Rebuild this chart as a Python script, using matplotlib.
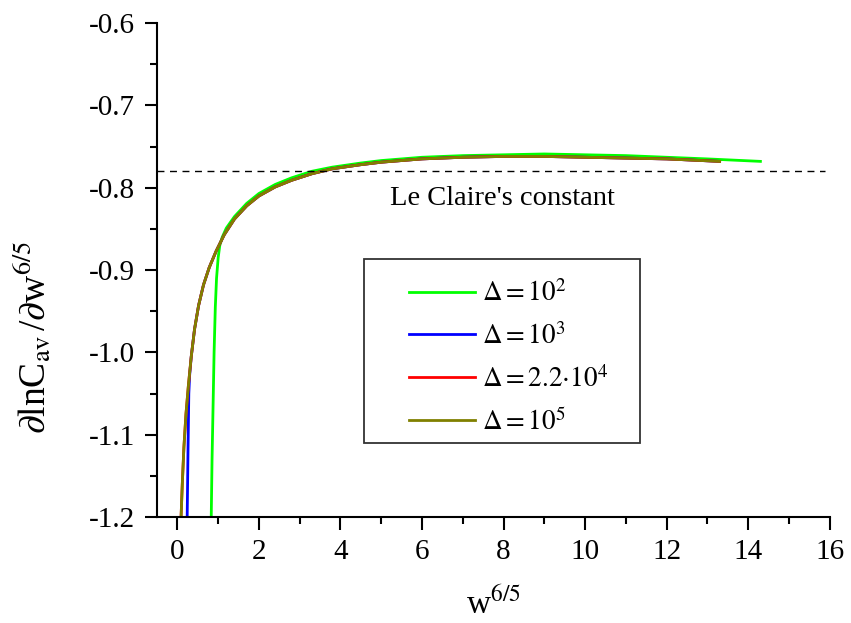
import matplotlib
matplotlib.use("Agg")
import matplotlib.pyplot as plt
from matplotlib.patches import Rectangle
from matplotlib.ticker import MultipleLocator

plt.rcParams["font.family"] = ["Liberation Serif", "DejaVu Serif"]
plt.rcParams["mathtext.fontset"] = "stix"
plt.rcParams["axes.unicode_minus"] = False

# Delta = 10^5 (and 2.2*10^4, which lies underneath it)
x_main = [0.09, 0.12, 0.16, 0.21, 0.27, 0.34, 0.42, 0.52, 0.64, 0.78, 0.95,
          1.15, 1.40, 1.70, 2.0, 2.4, 2.8, 3.3, 3.8, 4.5, 5.0, 6.0, 7.0, 8.0,
          9.0, 10.0, 11.0, 12.0, 13.3]
y_1e5 = [-1.200, -1.160, -1.115, -1.075, -1.040, -1.005, -0.972, -0.943,
         -0.918, -0.897, -0.877, -0.857, -0.838, -0.822, -0.810, -0.799,
         -0.791, -0.783, -0.777, -0.772, -0.769, -0.765, -0.763, -0.762,
         -0.762, -0.763, -0.764, -0.765, -0.768]
y_22e4 = [-1.200, -1.160, -1.115, -1.075, -1.040, -1.005, -0.972, -0.943,
          -0.918, -0.897, -0.877, -0.857, -0.838, -0.822, -0.810, -0.799,
          -0.791, -0.783, -0.777, -0.772, -0.769, -0.765, -0.763, -0.762,
          -0.762, -0.763, -0.764, -0.765, -0.768]

# Delta = 10^3
x_1e3 = [0.24, 0.26, 0.28, 0.30, 0.34, 0.42, 0.52, 0.64, 0.78, 0.95, 1.15,
         1.40, 1.70, 2.0, 2.4, 2.8, 3.3, 3.8, 4.5, 5.0, 6.0, 7.0, 8.0, 9.0,
         10.0, 11.0, 12.0, 13.3]
y_1e3 = [-1.200, -1.120, -1.050, -1.028, -1.005, -0.972, -0.943, -0.918,
         -0.897, -0.877, -0.857, -0.838, -0.822, -0.810, -0.799, -0.791,
         -0.783, -0.777, -0.772, -0.769, -0.765, -0.763, -0.762, -0.762,
         -0.763, -0.764, -0.765, -0.768]

# Delta = 10^2
x_1e2 = [0.83, 0.85, 0.87, 0.90, 0.93, 0.96, 1.00, 1.04, 1.10, 1.20, 1.40,
         1.70, 2.0, 2.4, 2.8, 3.3, 3.8, 4.5, 5.0, 6.0, 7.0, 8.0, 9.0, 10.0,
         11.0, 12.0, 13.0, 14.3]
y_1e2 = [-1.200, -1.130, -1.078, -1.000, -0.945, -0.910, -0.885, -0.870,
         -0.860, -0.849, -0.835, -0.819, -0.807, -0.796, -0.788, -0.780,
         -0.775, -0.770, -0.767, -0.763, -0.761, -0.760, -0.759, -0.760,
         -0.761, -0.763, -0.765, -0.768]

le_claire = -0.78

fig = plt.figure(figsize=(8.51, 6.23), dpi=100)
ax = fig.add_axes([0.1845, 0.170, 0.7905, 0.793])

lw = 2.0
ax.plot(x_1e2, y_1e2, color="#00ff00", lw=lw, label=r"$\Delta = 10^{2}$")
ax.plot(x_1e3, y_1e3, color="#0000ff", lw=lw, label=r"$\Delta = 10^{3}$")
ax.plot(x_main, y_22e4, color="#ff0000", lw=lw, label=r"$\Delta = 2.2{\cdot}10^{4}$")
ax.plot(x_main, y_1e5, color="#808000", lw=lw, label=r"$\Delta = 10^{5}$")

ax.hlines(le_claire, -0.5, 15.88, colors="black", linestyles=(0, (5, 4)), lw=1.0)
ax.text(5.22, -0.813, "Le Claire's constant", fontsize=20.5, va="center", ha="left")

ax.set_xlim(-0.5, 16)
ax.set_ylim(-1.2, -0.6)
ax.xaxis.set_major_locator(MultipleLocator(2))
ax.xaxis.set_minor_locator(MultipleLocator(1))
ax.yaxis.set_major_locator(MultipleLocator(0.1))
ax.yaxis.set_minor_locator(MultipleLocator(0.05))
ax.yaxis.set_major_formatter(lambda v, p: f"{v:.1f}")

for side in ("top", "right"):
    ax.spines[side].set_visible(False)
for side in ("left", "bottom"):
    ax.spines[side].set_linewidth(1.5)
ax.tick_params(which="major", direction="out", length=9, width=1.5, labelsize=21, pad=7)
ax.tick_params(which="minor", direction="out", length=5, width=1.5)

ax.set_xlabel(r"w$^{6/5}$", fontsize=24, labelpad=15)
ax.set_ylabel(r"$\partial$lnC$_{\mathrm{av}}\,$/$\partial$w$^{6/5}$", fontsize=27)
ax.yaxis.set_label_coords(-0.155, 0.364)

# legend frame drawn separately: the box has more room at the sides than above/below
ax.add_patch(Rectangle((0.3076, 0.1498), 0.410, 0.3725, transform=ax.transAxes,
                       fill=True, facecolor="white", edgecolor="#333333", lw=1.3, zorder=4))
leg = ax.legend(loc="upper left", bbox_to_anchor=(0.3744, 0.479), fontsize=19.5,
                frameon=False, handlelength=2.44, handletextpad=0.26, labelspacing=0.58,
                borderpad=0, borderaxespad=0)
leg.set_zorder(5)

fig.savefig("out.png", dpi=100)
